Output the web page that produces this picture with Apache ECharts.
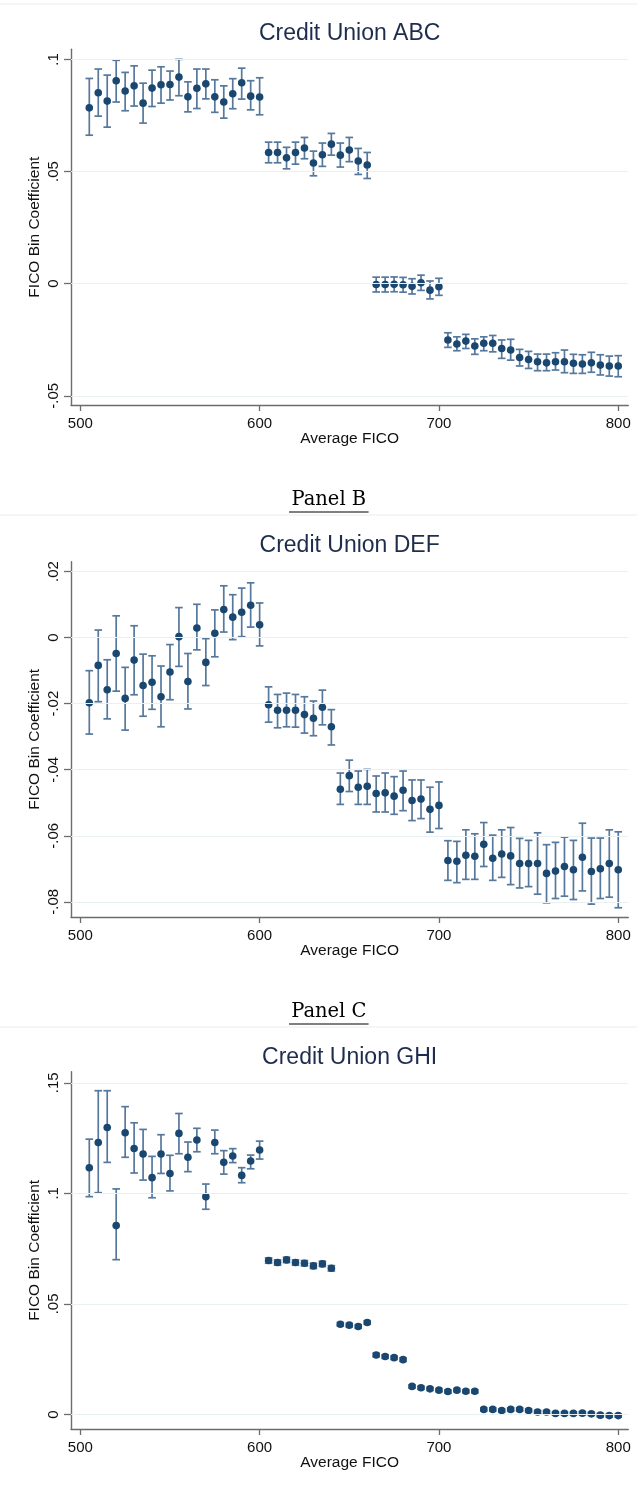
<!DOCTYPE html>
<html>
<head>
<meta charset="utf-8">
<script src="https://cdn.jsdelivr.net/npm/echarts@6/dist/echarts.min.js"></script>
<style>
  html, body { margin: 0; padding: 0; background: #ffffff; }
  #chart { width: 637px; height: 1487px; }
</style>
</head>
<body>
<div id="chart"></div>
<script>
// FICO bin midpoints (shared by all three credit unions)
const fico = [505,510,515,520,525,530,535,540,545,550,555,560,565,570,575,580,585,590,595,600,
              605,610,615,620,625,630,635,640,645,650,655,660,665,670,675,680,685,690,695,700,
              705,710,715,720,725,730,735,740,745,750,755,760,765,770,775,780,785,790,795,800];

// Credit Union ABC: coefficient and 95% CI bounds
const coefABC = [0.0784,0.0851,0.0814,0.0905,0.0859,0.0882,0.0805,0.0872,0.0887,0.0888,0.0921,0.0833,0.0871,0.0891,0.0833,0.0810,0.0847,0.0896,0.0836,0.0832,
                 0.0585,0.0585,0.0561,0.0585,0.0605,0.0538,0.0575,0.0622,0.0573,0.0596,0.0547,0.0529,
                 -0.0004,-0.0004,-0.0003,-0.0005,-0.0012,0.0004,-0.0029,-0.0014,
                 -0.0251,-0.0269,-0.0256,-0.0278,-0.0266,-0.0266,-0.0289,-0.0296,-0.0329,-0.0338,-0.0348,-0.0353,-0.0348,-0.0348,-0.0355,-0.0358,-0.0353,-0.0363,-0.0367,-0.0367];
const loABC = [0.0662,0.0747,0.0698,0.0810,0.0771,0.0792,0.0716,0.0790,0.0805,0.0819,0.0838,0.0766,0.0781,0.0824,0.0764,0.0738,0.0780,0.0823,0.0775,0.0753,
               0.0539,0.0539,0.0512,0.0533,0.0557,0.0481,0.0523,0.0573,0.0520,0.0544,0.0487,0.0469,
               -0.0037,-0.0037,-0.0036,-0.0038,-0.0046,-0.0030,-0.0068,-0.0052,
               -0.0284,-0.0299,-0.0289,-0.0315,-0.0299,-0.0304,-0.0333,-0.0341,-0.0367,-0.0378,-0.0388,-0.0388,-0.0385,-0.0397,-0.0400,-0.0400,-0.0395,-0.0407,-0.0412,-0.0415];
const hiABC = [0.0915,0.0957,0.0930,0.0996,0.0942,0.0971,0.0894,0.0952,0.0967,0.0948,0.1000,0.0900,0.0957,0.0957,0.0909,0.0882,0.0914,0.0961,0.0905,0.0918,
               0.0631,0.0631,0.0608,0.0631,0.0652,0.0591,0.0627,0.0670,0.0627,0.0652,0.0603,0.0585,
               0.0029,0.0029,0.0030,0.0028,0.0022,0.0038,0.0012,0.0024,
               -0.0219,-0.0237,-0.0226,-0.0246,-0.0237,-0.0231,-0.0251,-0.0248,-0.0293,-0.0302,-0.0314,-0.0314,-0.0308,-0.0296,-0.0315,-0.0317,-0.0306,-0.0317,-0.0323,-0.0321];

// Credit Union DEF
const coefDEF = [-0.0197,-0.0084,-0.0158,-0.0048,-0.0184,-0.0068,-0.0145,-0.0135,-0.0179,-0.0104,0.0003,-0.0133,0.0029,-0.0075,0.0013,0.0085,0.0062,0.0077,0.0098,0.0039,
                 -0.0203,-0.0220,-0.0220,-0.0220,-0.0233,-0.0244,-0.0211,-0.0270,
                 -0.0459,-0.0418,-0.0453,-0.0450,-0.0472,-0.0470,-0.0480,-0.0462,-0.0493,-0.0489,-0.0520,-0.0508,
                 -0.0675,-0.0677,-0.0659,-0.0662,-0.0626,-0.0668,-0.0655,-0.0661,-0.0684,-0.0684,-0.0684,-0.0714,-0.0707,-0.0693,-0.0703,-0.0665,-0.0708,-0.0700,-0.0684,-0.0703];
const loDEF = [-0.0292,-0.0194,-0.0246,-0.0162,-0.0280,-0.0173,-0.0238,-0.0217,-0.0270,-0.0188,-0.0087,-0.0216,-0.0037,-0.0145,-0.0058,0.0017,-0.0006,0.0003,0.0032,-0.0025,
               -0.0256,-0.0273,-0.0270,-0.0271,-0.0289,-0.0297,-0.0264,-0.0325,
               -0.0505,-0.0466,-0.0505,-0.0505,-0.0528,-0.0528,-0.0535,-0.0524,-0.0554,-0.0548,-0.0589,-0.0578,
               -0.0735,-0.0742,-0.0732,-0.0732,-0.0693,-0.0735,-0.0726,-0.0748,-0.0758,-0.0754,-0.0777,-0.0803,-0.0790,-0.0783,-0.0793,-0.0767,-0.0807,-0.0790,-0.0786,-0.0818];
const hiDEF = [-0.0100,0.0023,-0.0067,0.0066,-0.0090,0.0036,-0.0050,-0.0055,-0.0086,-0.0021,0.0091,-0.0048,0.0101,-0.0003,0.0084,0.0157,0.0130,0.0150,0.0166,0.0105,
               -0.0149,-0.0172,-0.0168,-0.0172,-0.0179,-0.0192,-0.0159,-0.0218,
               -0.0410,-0.0371,-0.0404,-0.0399,-0.0419,-0.0410,-0.0421,-0.0404,-0.0431,-0.0431,-0.0453,-0.0437,
               -0.0615,-0.0617,-0.0582,-0.0594,-0.0560,-0.0598,-0.0582,-0.0575,-0.0608,-0.0614,-0.0591,-0.0627,-0.0620,-0.0604,-0.0614,-0.0562,-0.0607,-0.0607,-0.0582,-0.0588];

// Credit Union GHI
const coefGHI = [0.1116,0.1230,0.1298,0.0854,0.1274,0.1203,0.1178,0.1071,0.1178,0.1090,0.1271,0.1163,0.1241,0.0985,0.1230,0.1140,0.1169,0.1081,0.1146,0.1196,
                 0.0696,0.0687,0.0699,0.0687,0.0684,0.0672,0.0681,0.0661,
                 0.0408,0.0404,0.0398,0.0416,
                 0.0269,0.0262,0.0257,0.0248,
                 0.0127,0.0121,0.0116,0.0110,0.0104,0.0110,0.0105,0.0105,
                 0.0023,0.0023,0.0018,0.0023,0.0023,0.0018,0.0011,0.0011,0.0005,0.0005,0.0005,0.0006,0.0003,-0.0003,-0.0005,-0.0005];
const loGHI = [0.0985,0.1003,0.1140,0.0700,0.1163,0.1092,0.1060,0.0980,0.1090,0.1011,0.1179,0.1098,0.1188,0.0928,0.1179,0.1087,0.1139,0.1048,0.1111,0.1155,
               0.0684,0.0675,0.0687,0.0675,0.0672,0.0660,0.0669,0.0649,
               0.0400,0.0396,0.0390,0.0408,
               0.0261,0.0254,0.0249,0.0240,
               0.0120,0.0114,0.0109,0.0103,0.0097,0.0103,0.0098,0.0098,
               0.0016,0.0016,0.0011,0.0016,0.0016,0.0011,0.0004,0.0004,-0.0002,-0.0002,-0.0002,-0.0001,-0.0004,-0.0010,-0.0012,-0.0012];
const hiGHI = [0.1245,0.1464,0.1464,0.1020,0.1392,0.1319,0.1289,0.1167,0.1265,0.1172,0.1361,0.1232,0.1294,0.1042,0.1286,0.1193,0.1202,0.1116,0.1173,0.1236,
               0.0708,0.0699,0.0711,0.0699,0.0696,0.0684,0.0693,0.0673,
               0.0416,0.0412,0.0406,0.0424,
               0.0277,0.0270,0.0265,0.0256,
               0.0134,0.0128,0.0123,0.0117,0.0111,0.0117,0.0112,0.0112,
               0.0030,0.0030,0.0025,0.0030,0.0030,0.0025,0.0018,0.0018,0.0012,0.0012,0.0012,0.0013,0.0010,0.0004,0.0002,0.0002];

// Axis ticks and their printed labels
const xTicks = [500, 600, 700, 800];
const xTickText = ['500', '600', '700', '800'];
const yTicksABC = [-0.05, 0, 0.05, 0.1];
const yTickTextABC = ['-.05', '0', '.05', '.1'];
const yTicksDEF = [-0.08, -0.06, -0.04, -0.02, 0, 0.02];
const yTickTextDEF = ['-.08', '-.06', '-.04', '-.02', '0', '.02'];
const yTicksGHI = [0, 0.05, 0.1, 0.15];
const yTickTextGHI = ['0', '.05', '.1', '.15'];

const titles = ['Credit Union ABC', 'Credit Union DEF', 'Credit Union GHI'];
const panelLabels = ['Panel B', 'Panel C'];
const xName = 'Average FICO';
const yName = 'FICO Bin Coefficient';

// ---- styling ----
const MARKER = '#1a476f';
const BAR = '#56789c';
const GRID_LINE = '#e9f0f1';
const AXIS = '#6c6c6c';
const TEXT = '#111111';
const TITLE = '#1e2c4d';
const SANS = '"Liberation Sans", Arial, sans-serif';

const panels = [
  { coef: coefABC, lo: loABC, hi: hiABC, ticks: yTicksABC, tickText: yTickTextABC,
    yMin: -0.0541, yMax: 0.1045, top: 49.3, height: 355.7, titleY: 33.3 },
  { coef: coefDEF, lo: loDEF, hi: hiDEF, ticks: yTicksDEF, tickText: yTickTextDEF,
    yMin: -0.0846, yMax: 0.0230, top: 561.7, height: 355.3, titleY: 545.5 },
  { coef: coefGHI, lo: loGHI, hi: hiGHI, ticks: yTicksGHI, tickText: yTickTextGHI,
    yMin: -0.00656, yMax: 0.155, top: 1071.7, height: 357.3, titleY: 1057.3 }
];

const PLOT_LEFT = 71;
const PLOT_RIGHT = 628.3;

function labelFor(values, texts) {
  return function (v) {
    let best = 0;
    for (let i = 1; i < values.length; i++) {
      if (Math.abs(values[i] - v) < Math.abs(values[best] - v)) best = i;
    }
    return texts[best];
  };
}

function renderErrorBar(params, api) {
  const x = api.value(0);
  const pLo = api.coord([x, api.value(1)]);
  const pHi = api.coord([x, api.value(2)]);
  const cap = 3.8;
  const style = { stroke: BAR, lineWidth: 1.7, fill: null };
  return {
    type: 'group',
    children: [
      { type: 'line', shape: { x1: pLo[0], y1: pLo[1], x2: pHi[0], y2: pHi[1] }, style: style },
      { type: 'line', shape: { x1: pHi[0] - cap, y1: pHi[1], x2: pHi[0] + cap, y2: pHi[1] }, style: style },
      { type: 'line', shape: { x1: pLo[0] - cap, y1: pLo[1], x2: pLo[0] + cap, y2: pLo[1] }, style: style }
    ]
  };
}

const grid = [], xAxis = [], yAxis = [], series = [], graphic = [];

panels.forEach(function (p, k) {
  grid.push({ left: PLOT_LEFT, top: p.top, width: PLOT_RIGHT - PLOT_LEFT, height: p.height, containLabel: false });

  xAxis.push({
    type: 'value', gridIndex: k, min: 494.8, max: 805.6,
    name: xName, nameLocation: 'middle', nameGap: 26, nameMoveOverlap: false,
    nameTextStyle: { color: TEXT, fontFamily: SANS, fontSize: 15.5 },
    axisLine: { show: true, onZero: false, lineStyle: { color: AXIS, width: 1.4 } },
    axisTick: { show: true, length: 6, customValues: xTicks, lineStyle: { color: AXIS, width: 1.3 } },
    axisLabel: { show: true, customValues: xTicks, margin: 11, color: TEXT, fontFamily: SANS, fontSize: 15,
                 formatter: labelFor(xTicks, xTickText) },
    splitLine: { show: false }
  });

  yAxis.push({
    type: 'value', gridIndex: k, min: p.yMin, max: p.yMax,
    name: yName, nameLocation: 'middle', nameGap: 28, nameMoveOverlap: false,
    nameTextStyle: { color: TEXT, fontFamily: SANS, fontSize: 15.5 },
    axisLine: { show: true, onZero: false, lineStyle: { color: AXIS, width: 1.4 } },
    axisTick: { show: true, length: 7, customValues: p.ticks, lineStyle: { color: AXIS, width: 1.3 } },
    axisLabel: { show: true, customValues: p.ticks, rotate: 90, margin: 10, color: TEXT, fontFamily: SANS, fontSize: 15,
                 formatter: labelFor(p.ticks, p.tickText) },
    splitLine: { show: false }
  });

  // horizontal grid lines at the labelled y ticks
  series.push({
    type: 'line', xAxisIndex: k, yAxisIndex: k, data: [], silent: true, z: 1,
    markLine: {
      silent: true, symbol: ['none', 'none'], animation: false,
      label: { show: false },
      lineStyle: { color: GRID_LINE, width: 1.2, type: 'solid' },
      data: p.ticks.map(function (v) { return { yAxis: v }; })
    }
  });

  // confidence-interval caps
  series.push({
    type: 'custom', xAxisIndex: k, yAxisIndex: k, z: 3, silent: true, animation: false,
    renderItem: renderErrorBar,
    encode: { x: 0, y: [1, 2] },
    data: fico.map(function (f, i) { return [f, p.lo[i], p.hi[i]]; })
  });

  // point estimates
  series.push({
    type: 'scatter', xAxisIndex: k, yAxisIndex: k, z: 4, silent: true, animation: false,
    symbol: 'circle', symbolSize: 7.6,
    itemStyle: { color: MARKER, opacity: 1 },
    data: fico.map(function (f, i) { return [f, p.coef[i]]; })
  });

  graphic.push({
    type: 'text', x: (PLOT_LEFT + PLOT_RIGHT) / 2, y: p.titleY, silent: true,
    style: { text: titles[k], fill: TITLE, font: '23px ' + SANS, align: 'center', verticalAlign: 'middle' }
  });
});

// faint top border of each figure
[4, 515, 1027].forEach(function (y) {
  graphic.push({ type: 'line', silent: true, shape: { x1: 0, y1: y, x2: 637, y2: y },
                 style: { stroke: '#eaeeee', lineWidth: 1 } });
});

// underlined panel captions
[{ y: 500, u: 512 }, { y: 1011.5, u: 1024 }].forEach(function (c, i) {
  graphic.push({ type: 'text', x: 328.8, y: c.y, silent: true,
                 style: { text: panelLabels[i], fill: '#000000', font: '19.5px "DejaVu Serif", serif',
                          align: 'center', verticalAlign: 'middle' } });
  graphic.push({ type: 'line', silent: true, shape: { x1: 289, y1: c.u, x2: 368.6, y2: c.u },
                 style: { stroke: '#000000', lineWidth: 1 } });
});

const chart = echarts.init(document.getElementById('chart'), null, { renderer: 'canvas', width: 637, height: 1487 });
chart.setOption({
  backgroundColor: '#ffffff',
  animation: false,
  grid: grid,
  xAxis: xAxis,
  yAxis: yAxis,
  series: series,
  graphic: graphic
});
</script>
</body>
</html>
